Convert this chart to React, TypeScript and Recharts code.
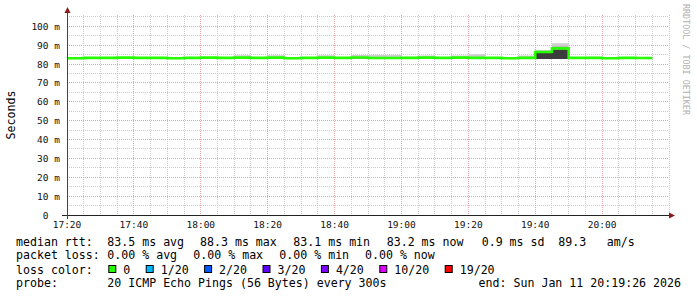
import React from 'react';
import { ComposedChart, Area, Line, XAxis, YAxis, CartesianGrid } from 'recharts';

// 5 minute steps starting at 17:20 (minutes after 17:20)
const STEP = 5;

const timeTicks = [0, 20, 40, 60, 80, 100, 120, 140, 160];
const timeLabels = ['17:20', '17:40', '18:00', '18:20', '18:40', '19:00', '19:20', '19:40', '20:00'];
const valueTicks = [0, 10, 20, 30, 40, 50, 60, 70, 80, 90, 100];

// median rtt per step (ms)
const median = [
  83.1, 83.3, 83.3, 83.4, 83.3, 83.3, 83.1, 83.3, 83.4, 83.3,
  83.4, 83.3, 83.4, 83.1, 83.3, 83.4, 83.3, 83.5, 83.2, 83.2,
  83.3, 83.4, 83.3, 83.4, 83.3, 83.3, 83.1, 83.3, 86.4, 88.3,
  83.3, 83.3, 83.1, 83.3, 83.2,
];
// smoke: outer band
const smokeLow = [
  82.9, 82.9, 82.9, 82.9, 82.9, 82.9, 82.9, 82.9, 82.9, 82.9,
  82.9, 82.9, 82.9, 82.9, 82.9, 82.9, 82.9, 82.9, 82.9, 82.9,
  82.9, 82.9, 82.9, 82.9, 82.9, 82.9, 82.9, 82.9, 82.7, 82.7,
  82.9, 82.9, 82.9, 82.9, 82.9,
];
const smokeHigh = [
  83.8, 83.8, 83.8, 83.8, 83.8, 83.8, 83.7, 83.8, 83.9, 83.8,
  84.7, 83.8, 84.7, 83.7, 83.8, 84.7, 83.8, 84.8, 84.9, 84.9,
  83.9, 84.6, 83.8, 84.6, 85.2, 83.8, 83.7, 84.6, 87.4, 91.0,
  83.8, 83.9, 83.7, 83.8, 83.8,
];
// smoke: middle band
const midLow = [
  83.0, 83.0, 83.0, 83.0, 83.0, 83.0, 83.0, 83.0, 83.0, 83.0,
  83.0, 83.0, 83.0, 83.0, 83.0, 83.0, 83.0, 83.0, 83.0, 83.0,
  83.0, 83.0, 83.0, 83.0, 83.0, 83.0, 83.0, 83.0, 82.7, 82.7,
  83.0, 83.0, 83.0, 83.0, 83.0,
];
const midHigh = [
  83.6, 83.6, 83.6, 83.6, 83.6, 83.6, 83.5, 83.6, 83.6, 83.6,
  83.7, 83.6, 83.7, 83.5, 83.6, 83.7, 83.6, 83.7, 83.7, 83.7,
  83.6, 83.7, 83.6, 83.7, 83.8, 83.6, 83.5, 83.6, 86.8, 89.2,
  83.6, 83.6, 83.5, 83.6, 83.6,
];
// smoke: core band
const coreLow = [
  83.1, 83.1, 83.1, 83.1, 83.1, 83.1, 83.0, 83.1, 83.1, 83.1,
  83.1, 83.1, 83.1, 83.0, 83.1, 83.1, 83.1, 83.1, 83.1, 83.1,
  83.1, 83.1, 83.1, 83.1, 83.1, 83.1, 83.0, 83.1, 82.7, 82.7,
  83.1, 83.1, 83.0, 83.1, 83.1,
];
const coreHigh = [
  83.5, 83.5, 83.5, 83.5, 83.5, 83.5, 83.3, 83.5, 83.5, 83.5,
  83.5, 83.5, 83.5, 83.3, 83.5, 83.5, 83.5, 83.6, 83.4, 83.4,
  83.5, 83.5, 83.5, 83.5, 83.5, 83.5, 83.3, 83.5, 85.8, 87.6,
  83.5, 83.5, 83.3, 83.5, 83.4,
];

const rttStats = ['83.5 ms avg', '88.3 ms max', '83.1 ms min', '83.2 ms now', '0.9 ms sd', '89.3', 'am/s'];
const rttStatX = [107.3, 200, 293.3, 386.7, 481.7, 558.3, 606.7];
const lossStats = ['0.00 % avg', '0.00 % max', '0.00 % min', '0.00 % now'];
const lossStatX = [107.3, 193.3, 279.3, 365];
const lossLabels = ['0', '1/20', '2/20', '3/20', '4/20', '10/20', '19/20'];
const lossColors = ['#26ff00', '#00b8ff', '#0059ff', '#5e00ff', '#7e00ff', '#dd00ff', '#ff0000'];

const rows = median.map((m, i) => ({
  t: i * STEP,
  median: m,
  outer: [smokeLow[i], smokeHigh[i]],
  mid: [midLow[i], midHigh[i]],
  core: [coreLow[i], coreHigh[i]],
}));
const last = rows[rows.length - 1];
rows.push({ ...last, t: median.length * STEP });

const minorTimes = Array.from({ length: 37 }, (_, i) => i * 5);
const minorValues = Array.from({ length: 22 }, (_, i) => i * 5);

const W = 697;
const H = 297;
const LEFT = 67;
const TOP = 15;
const RIGHT = 669;
const BOTTOM = 215;
const MONO = '"DejaVu Sans Mono", monospace';

const XTick = (props: any) => {
  const { x, y, payload } = props;
  const idx = timeTicks.indexOf(payload.value);
  return (
    <text x={x} y={y + 13} textAnchor="middle" fontFamily={MONO} fontSize={9.5} fill="#111">
      {timeLabels[idx]}
    </text>
  );
};

const YTick = (props: any) => {
  const { x, y, payload } = props;
  const label = payload.value === 0 ? '0\u00a0\u00a0' : `${payload.value} m`;
  return (
    <text x={x - 7} y={y} textAnchor="end" dominantBaseline="central" fontFamily={MONO} fontSize={9.5} fill="#111">
      {label}
    </text>
  );
};

const LossLegend = () => {
  let x = 108.3;
  const items: React.ReactNode[] = [];
  lossLabels.forEach((l, i) => {
    items.push(<rect key={'b' + i} x={x + 0.5} y={265.5} width={7} height={7} fill={lossColors[i]} stroke="#000" />);
    items.push(<text key={'t' + i} x={x + 15} y={273.5}>{l}</text>);
    x = x + 15 + l.length * 7 + 15.4;
  });
  return <g>{items}</g>;
};

export default function App() {
  return (
    <div style={{ position: 'absolute', left: 0, top: 0, width: W, height: H, background: '#fff' }}>
      <style>{'.recharts-cartesian-grid line{shape-rendering:crispEdges}'}</style>
      <ComposedChart
        width={W}
        height={H}
        data={rows}
        margin={{ top: TOP, right: W - RIGHT, bottom: H - BOTTOM - 20, left: 0 }}
      >
        <CartesianGrid stroke="#cccccc" strokeDasharray="1 1" verticalValues={minorTimes} horizontalValues={minorValues} />
        <CartesianGrid stroke="#e2a4a4" strokeDasharray="1 1" verticalValues={timeTicks} horizontalValues={valueTicks} />
        <XAxis
          dataKey="t"
          type="number"
          domain={[0, 180]}
          ticks={timeTicks}
          interval={0}
          allowDataOverflow
          axisLine={false}
          tickLine={false}
          tickSize={0}
          tickMargin={0}
          height={20}
          tick={<XTick />}
        />
        <YAxis
          type="number"
          domain={[0, 106]}
          ticks={valueTicks}
          interval={0}
          allowDataOverflow
          axisLine={false}
          tickLine={false}
          tickSize={0}
          tickMargin={0}
          width={LEFT}
          tick={<YTick />}
        />
        <Area dataKey="outer" type="stepAfter" fill="#cdcdcd" fillOpacity={1} stroke="none" isAnimationActive={false} />
        <Area dataKey="mid" type="stepAfter" fill="#8e8e8e" fillOpacity={1} stroke="none" isAnimationActive={false} />
        <Area dataKey="core" type="stepAfter" fill="#3c3c3c" fillOpacity={1} stroke="none" isAnimationActive={false} />
        <Line dataKey="median" type="stepAfter" stroke="#26ff00" strokeWidth={2.6} dot={false} isAnimationActive={false} />
      </ComposedChart>
      <svg width={W} height={H} style={{ position: 'absolute', left: 0, top: 0, pointerEvents: 'none' }}>
        <line x1={62} x2={RIGHT} y1={BOTTOM + 0.5} y2={BOTTOM + 0.5} stroke="#222" />
        <polygon points={`${RIGHT},${BOTTOM - 2.5} ${RIGHT + 6},${BOTTOM + 0.5} ${RIGHT},${BOTTOM + 3.5}`} fill="#8b1a1a" />
        <line x1={LEFT + 0.5} x2={LEFT + 0.5} y1={BOTTOM + 4} y2={TOP - 3} stroke="#444" />
        <polygon points={`${LEFT - 2.5},${TOP - 2} ${LEFT + 0.5},${TOP - 8} ${LEFT + 3.5},${TOP - 2}`} fill="#8b1a1a" />
        <text transform={`translate(15,${(TOP + BOTTOM) / 2}) rotate(-90)`} textAnchor="middle" fontFamily={MONO} fontSize={11.6} fill="#000">
          Seconds
        </text>
        <text transform="translate(683,4) rotate(90)" fontFamily={MONO} fontSize={8.4} fill="#b0b0b0">
          RRDTOOL / TOBI OETIKER
        </text>
        <g fontFamily={MONO} fontSize={11.6} fill="#000" style={{ whiteSpace: 'pre' }}>
          <text x={16} y={245.5}>median rtt:</text>
          {rttStats.map((s, i) => (
            <text key={s} x={rttStatX[i]} y={245.5}>{s}</text>
          ))}
          <text x={16} y={259}>packet loss:</text>
          {lossStats.map((s, i) => (
            <text key={s + i} x={lossStatX[i]} y={259}>{s}</text>
          ))}
          <text x={16} y={273.5}>loss color:</text>
          <LossLegend />
          <text x={16} y={287}>probe:</text>
          <text x={107.3} y={287}>20 ICMP Echo Pings (56 Bytes) every 300s</text>
          <text x={681} y={287} textAnchor="end">end: Sun Jan 11 20:19:26 2026</text>
        </g>
      </svg>
    </div>
  );
}
